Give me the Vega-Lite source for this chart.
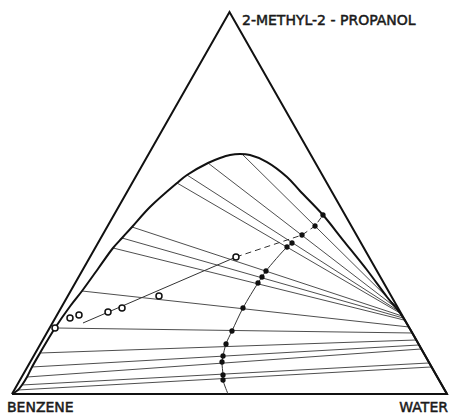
{
  "$schema": "https://vega.github.io/schema/vega-lite/v6.json",
  "width": 449,
  "height": 415,
  "autosize": "none",
  "padding": 0,
  "background": "white",
  "config": {"view": {"stroke": null}},
  "datasets": {
    "triangle": [
      {"i": 0, "x": 0, "y": 0},
      {"i": 1, "x": 1, "y": 0},
      {"i": 2, "x": 0.5, "y": 1},
      {"i": 3, "x": 0, "y": 0}
    ],
    "binodal": [
      {"i": 0, "x": 0.0, "y": 0.0},
      {"i": 1, "x": 0.0138, "y": 0.0105},
      {"i": 2, "x": 0.023, "y": 0.0236},
      {"i": 3, "x": 0.0345, "y": 0.0445},
      {"i": 4, "x": 0.046, "y": 0.0707},
      {"i": 5, "x": 0.0644, "y": 0.1073},
      {"i": 6, "x": 0.0989, "y": 0.1728},
      {"i": 7, "x": 0.134, "y": 0.2304},
      {"i": 8, "x": 0.1609, "y": 0.2696},
      {"i": 9, "x": 0.199, "y": 0.3298},
      {"i": 10, "x": 0.2322, "y": 0.3822},
      {"i": 11, "x": 0.2529, "y": 0.4084},
      {"i": 12, "x": 0.2759, "y": 0.4372},
      {"i": 13, "x": 0.3172, "y": 0.4895},
      {"i": 14, "x": 0.3793, "y": 0.5524},
      {"i": 15, "x": 0.4023, "y": 0.5733},
      {"i": 16, "x": 0.4506, "y": 0.6047},
      {"i": 17, "x": 0.4782, "y": 0.6178},
      {"i": 18, "x": 0.5011, "y": 0.6257},
      {"i": 19, "x": 0.5241, "y": 0.6283},
      {"i": 20, "x": 0.5471, "y": 0.6257},
      {"i": 21, "x": 0.5862, "y": 0.6073},
      {"i": 22, "x": 0.6322, "y": 0.5681},
      {"i": 23, "x": 0.6621, "y": 0.5314},
      {"i": 24, "x": 0.7149, "y": 0.4686},
      {"i": 25, "x": 0.7609, "y": 0.4031},
      {"i": 26, "x": 0.8161, "y": 0.3246},
      {"i": 27, "x": 0.8621, "y": 0.2539},
      {"i": 28, "x": 0.892, "y": 0.212},
      {"i": 29, "x": 0.915, "y": 0.17},
      {"i": 30, "x": 0.95, "y": 0.1},
      {"i": 31, "x": 0.975, "y": 0.05},
      {"i": 32, "x": 1.0, "y": 0.0}
    ],
    "ties": [
      {"x": 0.531, "y": 0.6257, "x2": 0.8874, "y2": 0.2251},
      {"x": 0.4506, "y": 0.6047, "x2": 0.8897, "y2": 0.2199},
      {"x": 0.4023, "y": 0.5733, "x2": 0.892, "y2": 0.2147},
      {"x": 0.3793, "y": 0.5524, "x2": 0.892, "y2": 0.212},
      {"x": 0.2759, "y": 0.4372, "x2": 0.8966, "y2": 0.2042},
      {"x": 0.2529, "y": 0.4084, "x2": 0.8989, "y2": 0.199},
      {"x": 0.2322, "y": 0.3822, "x2": 0.9011, "y2": 0.1937},
      {"x": 0.1609, "y": 0.2696, "x2": 0.9126, "y2": 0.1754},
      {"x": 0.0989, "y": 0.1728, "x2": 0.9195, "y2": 0.1597},
      {"x": 0.0644, "y": 0.1073, "x2": 0.9287, "y2": 0.1414},
      {"x": 0.046, "y": 0.0707, "x2": 0.9356, "y2": 0.1283},
      {"x": 0.0345, "y": 0.0445, "x2": 0.9402, "y2": 0.1178},
      {"x": 0.023, "y": 0.0236, "x2": 0.9586, "y2": 0.0812},
      {"x": 0.0138, "y": 0.0105, "x2": 0.9632, "y2": 0.0707}
    ],
    "conjugate": [
      {"i": 0, "x": 0.4966, "y": 0.0},
      {"i": 1, "x": 0.4851, "y": 0.0366},
      {"i": 2, "x": 0.4851, "y": 0.0497},
      {"i": 3, "x": 0.4828, "y": 0.0838},
      {"i": 4, "x": 0.4851, "y": 0.0995},
      {"i": 5, "x": 0.492, "y": 0.1309},
      {"i": 6, "x": 0.5057, "y": 0.1649},
      {"i": 7, "x": 0.531, "y": 0.2251},
      {"i": 8, "x": 0.5655, "y": 0.2906},
      {"i": 9, "x": 0.5747, "y": 0.3063},
      {"i": 10, "x": 0.5839, "y": 0.322},
      {"i": 11, "x": 0.6322, "y": 0.3848},
      {"i": 12, "x": 0.6437, "y": 0.3953}
    ],
    "dashed": [
      {"i": 0, "x": 0.5149, "y": 0.3586},
      {"i": 1, "x": 0.6667, "y": 0.4162},
      {"i": 2, "x": 0.6966, "y": 0.4398},
      {"i": 3, "x": 0.7149, "y": 0.4686}
    ],
    "trend": [
      {"i": 0, "x": 0.1632, "y": 0.1859},
      {"i": 1, "x": 0.5149, "y": 0.3586}
    ],
    "dots": [
      {"x": 0.7149, "y": 0.4686},
      {"x": 0.6966, "y": 0.4398},
      {"x": 0.6667, "y": 0.4162},
      {"x": 0.6437, "y": 0.3953},
      {"x": 0.6322, "y": 0.3848},
      {"x": 0.5839, "y": 0.322},
      {"x": 0.5747, "y": 0.3063},
      {"x": 0.5655, "y": 0.2906},
      {"x": 0.531, "y": 0.2251},
      {"x": 0.5057, "y": 0.1649},
      {"x": 0.492, "y": 0.1309},
      {"x": 0.4851, "y": 0.0995},
      {"x": 0.4828, "y": 0.0838},
      {"x": 0.4851, "y": 0.0497},
      {"x": 0.4851, "y": 0.0366}
    ],
    "circles": [
      {"x": 0.0989, "y": 0.1728},
      {"x": 0.1333, "y": 0.199},
      {"x": 0.154, "y": 0.2068},
      {"x": 0.2207, "y": 0.2147},
      {"x": 0.2529, "y": 0.2251},
      {"x": 0.3379, "y": 0.2565},
      {"x": 0.5149, "y": 0.3586}
    ],
    "leftLabels": [
      {"x": -0.0115, "y": -0.0471, "label": "BENZENE"},
      {"x": 0.5287, "y": 0.966, "label": "2-METHYL-2 - PROPANOL"}
    ],
    "rightLabels": [
      {"x": 1.0023, "y": -0.0471, "label": "WATER"}
    ]
  },
  "encoding": {
    "x": {"field": "x", "type": "quantitative", "axis": null,
          "scale": {"domain": [-0.02759, 1.0046], "nice": false, "zero": false}},
    "y": {"field": "y", "type": "quantitative", "axis": null,
          "scale": {"domain": [-0.05497, 1.0314], "nice": false, "zero": false}}
  },
  "layer": [
    {
      "data": {"name": "ties"},
      "mark": {"type": "rule", "stroke": "#3a3a3a", "strokeWidth": 0.9},
      "encoding": {
        "x2": {"field": "x2"},
        "y2": {"field": "y2"}
      }
    },
    {
      "data": {"name": "triangle"},
      "mark": {"type": "line", "stroke": "#111", "strokeWidth": 2, "strokeJoin": "miter"},
      "encoding": {"order": {"field": "i", "type": "quantitative"}}
    },
    {
      "data": {"name": "binodal"},
      "mark": {"type": "line", "stroke": "#111", "strokeWidth": 2, "interpolate": "catmull-rom"},
      "encoding": {"order": {"field": "i", "type": "quantitative"}}
    },
    {
      "data": {"name": "conjugate"},
      "mark": {"type": "line", "stroke": "#333", "strokeWidth": 1, "interpolate": "catmull-rom"},
      "encoding": {"order": {"field": "i", "type": "quantitative"}}
    },
    {
      "data": {"name": "dashed"},
      "mark": {"type": "line", "stroke": "#333", "strokeWidth": 1, "strokeDash": [6, 4]},
      "encoding": {"order": {"field": "i", "type": "quantitative"}}
    },
    {
      "data": {"name": "trend"},
      "mark": {"type": "line", "stroke": "#333", "strokeWidth": 1},
      "encoding": {"order": {"field": "i", "type": "quantitative"}}
    },
    {
      "data": {"name": "dots"},
      "mark": {"type": "point", "filled": true, "fill": "#111", "size": 28, "opacity": 1}
    },
    {
      "data": {"name": "circles"},
      "mark": {"type": "point", "filled": false, "fill": "white", "fillOpacity": 1, "stroke": "#111", "strokeWidth": 1.5, "size": 36, "opacity": 1}
    },
    {
      "data": {"name": "leftLabels"},
      "mark": {"type": "text", "font": "DejaVu Sans", "fontSize": 14, "fill": "#1a1a1a", "stroke": "#1a1a1a", "strokeWidth": 0.5, "baseline": "alphabetic", "align": "left"},
      "encoding": {"text": {"field": "label"}}
    },
    {
      "data": {"name": "rightLabels"},
      "mark": {"type": "text", "font": "DejaVu Sans", "fontSize": 14, "fill": "#1a1a1a", "stroke": "#1a1a1a", "strokeWidth": 0.5, "baseline": "alphabetic", "align": "right"},
      "encoding": {"text": {"field": "label"}}
    }
  ]
}
